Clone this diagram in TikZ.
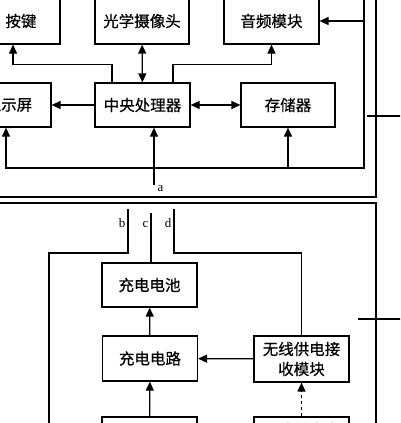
\documentclass[tikz,border=0pt]{standalone}
\usepackage{fontspec}
\setmainfont{Liberation Serif}
\newfontfamily\cjk[FakeBold=0.6]{Noto Sans CJK SC}
\usetikzlibrary{arrows.meta}

\begin{document}
\begin{tikzpicture}[x=1pt,y=-1pt,line width=1.2pt,>={Triangle[length=9pt,width=8pt]},
	block/.style={draw,rectangle,black,inner sep=0pt,align=center,font=\cjk\fontsize{15.5}{20}\selectfont},
	tag/.style={font=\fontsize{13}{13}\selectfont,inner sep=0pt}]
	\usetikzlibrary{graphs}

	\useasboundingbox (0,0) rectangle (400,423);
	\clip (0,0) rectangle (400,423);

	% top unit
	\node [name=key,block,minimum width=78pt,minimum height=46pt] at (21,21) {按键};
	\node [name=cam,block,minimum width=94pt,minimum height=46pt] at (142,21) {光学摄像头};
	\node [name=audio,block,minimum width=95pt,minimum height=46pt] at (271.5,21) {音频模块};

	\node [name=disp,block,minimum width=84pt,minimum height=44pt] at (9,105) {显示屏};
	\node [name=cpu,block,minimum width=95pt,minimum height=44pt] at (142.5,105) {中央处理器};
	\node [name=mem,block,minimum width=94pt,minimum height=44pt] at (288,105) {存储器};

	\draw (-5,-5) rectangle (376,197);
	\draw (367,116) -- (405,116);

	% bottom unit
	\node [name=batt,block,minimum width=95pt,minimum height=44pt] at (149.5,285) {充电电池};
	\node [name=chg,block,minimum width=95pt,minimum height=45pt] at (150,358.5) {充电电路};
	\node [name=rx,block,minimum width=95pt,minimum height=46pt] at (301.5,359) {无线供电接\\收模块};
	\node [name=src,block,minimum width=95pt,minimum height=44pt] at (149.5,439) {};
	\node [name=tx,block,minimum width=95pt,minimum height=46pt] at (301.5,440) {无线供电发\\射模块};

	\draw (-5,203) rectangle (376,430);
	\draw (358,319) -- (405,319);


\graph {(cpu) -> (disp)};
\graph {(cpu) <-> (mem)};
\graph {(cam) <-> (cpu)};

\draw [->] ([xshift=-30.5pt]cpu.north) -- ++(0,-18) -| ([xshift=-8pt]key.south);
\draw [->] ([xshift=30.5pt]cpu.north) -- ++(0,-18) -| (audio.south);

\coordinate (bustop) at (364,-5);
\coordinate (busend) at (364,168);
\draw [->] (bustop) |- (audio.east);
\draw [->] (bustop) -- (busend) -| ([xshift=-3pt]disp.south);
\draw [->] (mem.south |- busend) -- (mem.south);

\coordinate (a) at (154,185);
\draw [->] (a) -- (a |- cpu.south);
\node [tag,anchor=base west] at (157,191) {a};

\coordinate (btop) at (128,209);
\coordinate (ctop) at (151,213);
\coordinate (dtop) at (174,209);
\coordinate (bend) at (49,430);
\draw (btop) -- ++(0,44) -| (bend);
\draw (ctop) -- (ctop |- batt.north);
\draw (dtop) -- ++(0,44) -| (rx.north);
\node [tag,anchor=base east] at (126,227) {b};
\node [tag,anchor=base east] at (149,227) {c};
\node [tag,anchor=base east] at (172,227) {d};

\graph {(chg) -> (batt)};
\graph {(src) -> (chg)};
\graph {(rx) -> (chg)};
\graph {(tx) ->[dashed] (rx)};

\end{tikzpicture}
\end{document}
